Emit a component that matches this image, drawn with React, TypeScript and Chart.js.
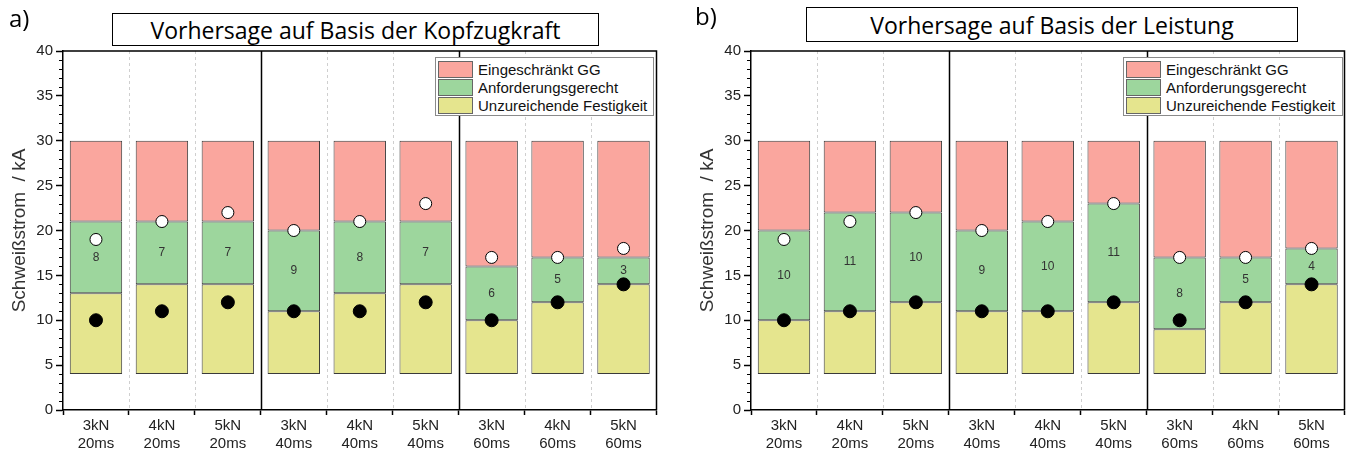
import React, { useEffect, useRef } from 'react';
import { Chart, registerables } from 'chart.js';
Chart.register(...registerables);

const categories: string[][] = [
  ['3kN', '20ms'], ['4kN', '20ms'], ['5kN', '20ms'],
  ['3kN', '40ms'], ['4kN', '40ms'], ['5kN', '40ms'],
  ['3kN', '60ms'], ['4kN', '60ms'], ['5kN', '60ms'],
];
const barBottom = 4;
const barTop = 30;
const leftYellowTop = [13, 14, 14, 11, 13, 14, 10, 12, 14];
const leftGreenTop = [21, 21, 21, 20, 21, 21, 16, 17, 17];
const rightYellowTop = [10, 11, 12, 11, 11, 12, 9, 12, 14];
const rightGreenTop = [20, 22, 22, 20, 21, 23, 17, 17, 18];
const leftWhitePoints = [19, 21, 22, 20, 21, 23, 17, 17, 18];
const leftBlackPoints = [10, 11, 12, 11, 11, 12, 10, 12, 14];
const rightWhitePoints = [19, 21, 22, 20, 21, 23, 17, 17, 18];
const rightBlackPoints = [10, 11, 12, 11, 11, 12, 10, 12, 14];
const yTicks = [0, 5, 10, 15, 20, 25, 30, 35, 40];
const legendLabels = ['Eingeschränkt GG', 'Anforderungsgerecht', 'Unzureichende Festigkeit'];

const RED = 'rgb(250,166,158)';
const GREEN = 'rgb(157,214,157)';
const YELLOW = 'rgb(229,229,142)';
const FONT = '"Liberation Sans", Arial, sans-serif';

const decorPlugin = {
  id: 'decor',
  beforeDatasetsDraw(chart: any) {
    const { ctx, chartArea: a, scales } = chart;
    const x = scales.x;
    const y = scales.y;
    ctx.save();
    for (let i = 1; i < categories.length; i++) {
      const px = Math.round((x.getPixelForValue(i - 1) + x.getPixelForValue(i)) / 2) + 0.5;
      ctx.beginPath();
      if (i % 3 === 0) {
        ctx.setLineDash([]);
        ctx.strokeStyle = '#000';
        ctx.lineWidth = 1.5;
      } else {
        ctx.setLineDash([3, 3]);
        ctx.strokeStyle = '#cfcfcf';
        ctx.lineWidth = 1;
      }
      ctx.moveTo(px, a.top);
      ctx.lineTo(px, a.bottom);
      ctx.stroke();
    }
    ctx.setLineDash([]);
    ctx.strokeStyle = '#000';
    ctx.lineWidth = 1;
    for (let v = y.min; v <= y.max; v++) {
      if (v % 5 === 0) continue;
      const py = Math.round(y.getPixelForValue(v)) + 0.5;
      ctx.beginPath();
      ctx.moveTo(a.left - 4, py);
      ctx.lineTo(a.left, py);
      ctx.stroke();
    }
    ctx.lineWidth = 1.5;
    ctx.beginPath();
    ctx.moveTo(a.left, a.top);
    ctx.lineTo(a.right, a.top);
    ctx.lineTo(a.right, a.bottom);
    ctx.stroke();
    ctx.restore();
  },
  afterDatasetsDraw(chart: any) {
    const { ctx, scales } = chart;
    const opts = chart.options.plugins.decor;
    const lower: number[] = opts.lower;
    const upper: number[] = opts.upper;
    ctx.save();
    ctx.font = `12px ${FONT}`;
    ctx.fillStyle = '#333';
    ctx.textAlign = 'center';
    ctx.textBaseline = 'middle';
    for (let i = 0; i < lower.length; i++) {
      const px = scales.x.getPixelForValue(i);
      const py = scales.y.getPixelForValue((lower[i] + upper[i]) / 2);
      ctx.fillText(String(upper[i] - lower[i]), px, py);
    }
    ctx.restore();
  },
};

function makeConfig(yellowTop: number[], greenTop: number[], white: number[], black: number[]): any {
  const barCommon = {
    type: 'bar',
    grouped: false,
    barPercentage: 0.795,
    categoryPercentage: 1,
    borderColor: '#3a3a3a',
    borderWidth: 1,
    borderSkipped: false,
    order: 2,
  };
  return {
    type: 'bar',
    data: {
      labels: categories,
      datasets: [
        {
          type: 'line', label: 'white', data: white, showLine: false,
          pointRadius: 6, pointBackgroundColor: '#fff', pointBorderColor: '#000', pointBorderWidth: 1, order: 0,
        },
        {
          type: 'line', label: 'black', data: black, showLine: false,
          pointRadius: 6.5, pointBackgroundColor: '#000', pointBorderColor: '#000', pointBorderWidth: 1, order: 0,
        },
        { ...barCommon, label: legendLabels[2], data: yellowTop.map((v) => [barBottom, v]), backgroundColor: YELLOW },
        { ...barCommon, label: legendLabels[1], data: yellowTop.map((v, i) => [v, greenTop[i]]), backgroundColor: GREEN },
        { ...barCommon, label: legendLabels[0], data: greenTop.map((v) => [v, barTop]), backgroundColor: RED },
      ],
    },
    options: {
      animation: false,
      responsive: false,
      maintainAspectRatio: false,
      layout: { padding: { top: 51, right: 4, left: 0, bottom: 0 } },
      plugins: {
        legend: { display: false },
        tooltip: { enabled: false },
        title: { display: false },
        decor: { lower: yellowTop, upper: greenTop },
      },
      scales: {
        x: {
          type: 'category',
          offset: true,
          grid: { offset: true, drawOnChartArea: false, drawTicks: true, tickLength: 5, color: '#000', tickWidth: 1.5 },
          border: { color: '#000', width: 1.5 },
          ticks: { color: '#222', font: { family: FONT, size: 15, lineHeight: 1.25 }, padding: 1, maxRotation: 0, autoSkip: false },
          afterFit: (s: any) => { s.height = 44; },
        },
        y: {
          min: 0,
          max: 40,
          afterBuildTicks: (s: any) => { s.ticks = yTicks.map((v) => ({ value: v })); },
          grid: { drawOnChartArea: false, drawTicks: true, tickLength: 7, color: '#000', tickWidth: 1.5 },
          border: { color: '#000', width: 1.5 },
          ticks: { color: '#222', font: { family: FONT, size: 15 }, padding: 3 },
          title: {
            display: true,
            text: 'Schweißstrom  / kA',
            color: '#333',
            font: { family: FONT, size: 19 },
            padding: { top: 8, bottom: 0 },
          },
          afterFit: (s: any) => { s.width = 63; },
        },
      },
    },
    plugins: [decorPlugin],
  };
}

function ChartPanel(props: { yellowTop: number[]; greenTop: number[]; white: number[]; black: number[] }) {
  const ref = useRef<HTMLCanvasElement | null>(null);
  useEffect(() => {
    if (!ref.current) return;
    const chart = new Chart(ref.current, makeConfig(props.yellowTop, props.greenTop, props.white, props.black));
    return () => chart.destroy();
  }, []);
  return <canvas ref={ref} width={664} height={454} style={{ display: 'block', width: 664, height: 454 }} />;
}

function Legend(props: { left: number; top: number; width: number }) {
  const colors = [RED, GREEN, YELLOW];
  return (
    <div
      style={{
        position: 'absolute', left: props.left, top: props.top, width: props.width, height: 59,
        boxSizing: 'border-box', border: '1px solid #8a8a8a', background: '#fff', padding: '2px 0 0 2px',
      }}
    >
      {legendLabels.map((t, i) => (
        <div key={t} style={{ display: 'flex', alignItems: 'center', height: 18.3 }}>
          <div style={{ width: 35, height: 17, boxSizing: 'border-box', background: colors[i], border: '1px solid #666', marginRight: 5 }} />
          <span style={{ font: `15px ${FONT}`, color: '#111', whiteSpace: 'nowrap' }}>{t}</span>
        </div>
      ))}
    </div>
  );
}

const titleFont = '"Open Sans", "Noto Sans", sans-serif';

export default function App() {
  return (
    <div style={{ position: 'absolute', left: 0, top: 0, width: 1352, height: 454, background: '#fff', overflow: 'hidden' }}>
      <div style={{ position: 'absolute', left: 0, top: 0 }}>
        <ChartPanel yellowTop={leftYellowTop} greenTop={leftGreenTop} white={leftWhitePoints} black={leftBlackPoints} />
      </div>
      <div style={{ position: 'absolute', left: 688, top: 0 }}>
        <ChartPanel yellowTop={rightYellowTop} greenTop={rightGreenTop} white={rightWhitePoints} black={rightBlackPoints} />
      </div>
      <div style={{ position: 'absolute', left: 9, top: 1, font: `24px ${titleFont}`, color: '#000' }}>a)</div>
      <div style={{ position: 'absolute', left: 695, top: -1, font: `24px ${titleFont}`, color: '#000' }}>b)</div>
      <div
        style={{
          position: 'absolute', left: 112, top: 13, width: 487, height: 33, boxSizing: 'border-box',
          border: '1.5px solid #000', background: '#fff', display: 'flex', alignItems: 'center', justifyContent: 'center',
          font: `23px ${titleFont}`, color: '#000', whiteSpace: 'nowrap',
        }}
      >
        Vorhersage auf Basis der Kopfzugkraft
      </div>
      <div
        style={{
          position: 'absolute', left: 806, top: 7, width: 492, height: 35, boxSizing: 'border-box',
          border: '1.5px solid #000', background: '#fff', display: 'flex', alignItems: 'center', justifyContent: 'center',
          font: `23px ${titleFont}`, color: '#000', whiteSpace: 'nowrap',
        }}
      >
        Vorhersage auf Basis der Leistung
      </div>
      <Legend left={435} top={57} width={219} />
      <Legend left={1123} top={57} width={220} />
    </div>
  );
}
